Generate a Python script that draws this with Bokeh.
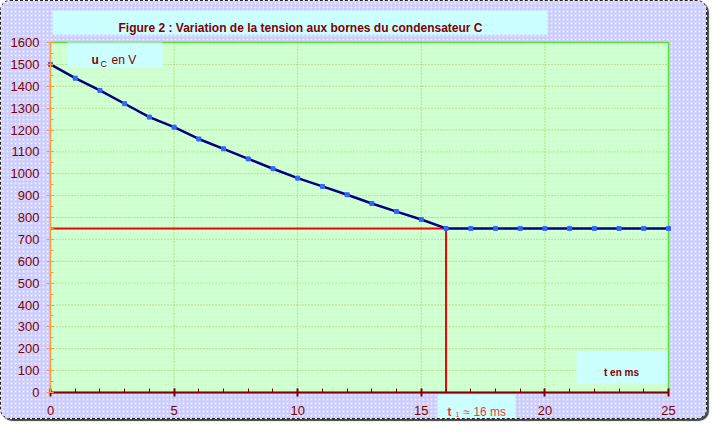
from bokeh.plotting import figure
from bokeh.models import Range1d, Label, FixedTicker, ColumnDataSource, BoxAnnotation
from bokeh.embed import file_html
from bokeh.resources import INLINE

# ---- data ----
t_ms = list(range(0, 26))
u_c = [1500, 1437, 1381, 1320, 1259, 1213, 1159, 1114, 1068, 1023, 980, 942, 904,
       864, 827, 791, 750, 750, 750, 750, 750, 750, 750, 750, 750, 750]
t1 = 16
u_half = 750
x_ticks = [0, 5, 10, 15, 20, 25]
x_minor = list(range(0, 26))
y_ticks = list(range(0, 1700, 100))
y_minor = list(range(0, 1650, 50))

title_text = "Figure 2 : Variation de la tension aux bornes du condensateur C"
ylab_u, ylab_sub, ylab_unit = "u", "C", "en V"
xlab = "t en ms"
t1_t, t1_sub, t1_rest = "t", "1", "\u2248 16 ms"

DARK = "#800000"
FONT = "Liberation Sans"
LAV = "#CDCDFD"
W, H = 707, 419

# plot-area placement (image pixels): x 0..25 -> 50..668, y 0..1600 -> 392..42
PX0, PX1, PY0, PY1 = 50, 668, 392, 42
sx = (PX1 - PX0) / (x_ticks[-1] - x_ticks[0])
sy = (PY0 - PY1) / (y_ticks[-1] - y_ticks[0])

def dx(px):
    return x_ticks[0] + (px - PX0) / sx

def dy(py):
    return y_ticks[0] + (PY0 - py) / sy

p = figure(width=W, height=H, output_backend="svg", toolbar_location=None,
           x_range=Range1d(dx(1), dx(1 + W)), y_range=Range1d(dy(1 + H), dy(1)),
           min_border_left=0, min_border_right=0, min_border_top=0, min_border_bottom=0)
p.border_fill_color = LAV
p.background_fill_color = LAV
p.outline_line_color = None
p.grid.visible = False
p.styles = {"border": "1px dashed #222", "border-radius": "10px", "overflow": "hidden",
            "box-shadow": "2px 2px 1px #444"}

# dotted texture of the outer panel
p.quad(left=[dx(0)], right=[dx(W + 2)], bottom=[dy(H + 2)], top=[dy(0)],
       fill_color=LAV, line_color=None,
       hatch_pattern=".", hatch_color="white", hatch_alpha=0.7, hatch_scale=4, hatch_weight=1)

# plot area
p.quad(left=[x_ticks[0]], right=[x_ticks[-1]], bottom=[y_ticks[0]], top=[y_ticks[-1]],
       fill_color="#CCFFCC", line_color="#33EE33", line_width=1.5,
       hatch_pattern=".", hatch_color="white", hatch_alpha=0.6, hatch_scale=4, hatch_weight=1)

# grid lines
p.segment(x0=x_ticks[1:], y0=[y_ticks[0]] * 5, x1=x_ticks[1:], y1=[y_ticks[-1]] * 5,
          line_color="#99CC44", line_dash="1 2", line_width=1)
p.segment(x0=[x_ticks[0]] * 16, y0=y_ticks[1:], x1=[x_ticks[-1]] * 16, y1=y_ticks[1:],
          line_color="#A8BB55", line_dash="1 2", line_width=1)

# axes, fixed on the plot-area edges
xa, ya = p.xaxis[0], p.yaxis[0]
xa.fixed_location = 0
ya.fixed_location = 0
xa.bounds = (x_ticks[0], x_ticks[-1])
ya.bounds = (y_ticks[0], y_ticks[-1])
xa.ticker = FixedTicker(ticks=x_ticks, minor_ticks=x_minor)
ya.ticker = FixedTicker(ticks=y_ticks, minor_ticks=y_minor)
for ax in (xa, ya):
    ax.major_label_text_font = FONT
    ax.major_label_text_font_size = "13px"
    ax.major_label_text_color = DARK
xa.major_label_standoff = 9
ya.major_label_standoff = 7
xa.axis_line_color = DARK
xa.axis_line_width = 2
xa.major_tick_line_color = DARK
xa.minor_tick_line_color = DARK
xa.major_tick_line_width = 2
xa.major_tick_in = 4
xa.major_tick_out = 4
xa.minor_tick_in = 4
xa.minor_tick_out = 0
ya.axis_line_color = "#FF9944"
ya.major_tick_line_color = "#FF9944"
ya.minor_tick_line_color = "#FF9944"
ya.major_tick_in = 3
ya.major_tick_out = 4
ya.minor_tick_in = 3
ya.minor_tick_out = 0

# red construction lines
p.line(x=[x_ticks[0], t1], y=[u_half, u_half], line_color="#FF0000", line_width=2)
p.line(x=[t1, t1], y=[u_half, y_ticks[0]], line_color="#FF0000", line_width=2)

# curve
src = ColumnDataSource(dict(t=t_ms, u=u_c))
p.line("t", "u", source=src, line_color="#000080", line_width=2.5)
p.scatter("t", "u", source=src, marker="square", size=4, fill_color="#3366FF", line_color="#3366FF")

BOX = "#CCFFFF"

def box(l, t, r, b):
    p.add_layout(BoxAnnotation(left=dx(l), right=dx(r), top=dy(t), bottom=dy(b),
                               fill_color=BOX, fill_alpha=1, line_alpha=0, level="annotation"))

def txt(px, py, s, size="12px", style="normal", color=DARK, align="left", base="alphabetic"):
    p.add_layout(Label(x=dx(px), y=dy(py), text=s, text_align=align, text_baseline=base,
                       text_font=FONT, text_font_size=size, text_font_style=style, text_color=color))

# title
box(52, 10, 547, 34)
txt(300, 27, title_text, size="12px", style="bold", align="center")

# u_C en V
box(67, 42, 162, 67)
txt(91, 59, ylab_u, size="12px", style="bold")
txt(100, 63, ylab_sub, size="9px")
txt(111, 59, ylab_unit, size="12px")

# t en ms
box(576, 351, 667, 383)
txt(621, 372, xlab, size="10px", style="bold", align="center")

# t1
box(437, 394, 515, 428)
txt(447, 411, t1_t, size="12px", style="bold", color="#FF3333")
txt(455, 414, t1_sub, size="7px", color="#FF3333")
txt(463, 411, t1_rest, size="12px", color="#FF3333")

open("out.html", "w").write(file_html(p, INLINE))
